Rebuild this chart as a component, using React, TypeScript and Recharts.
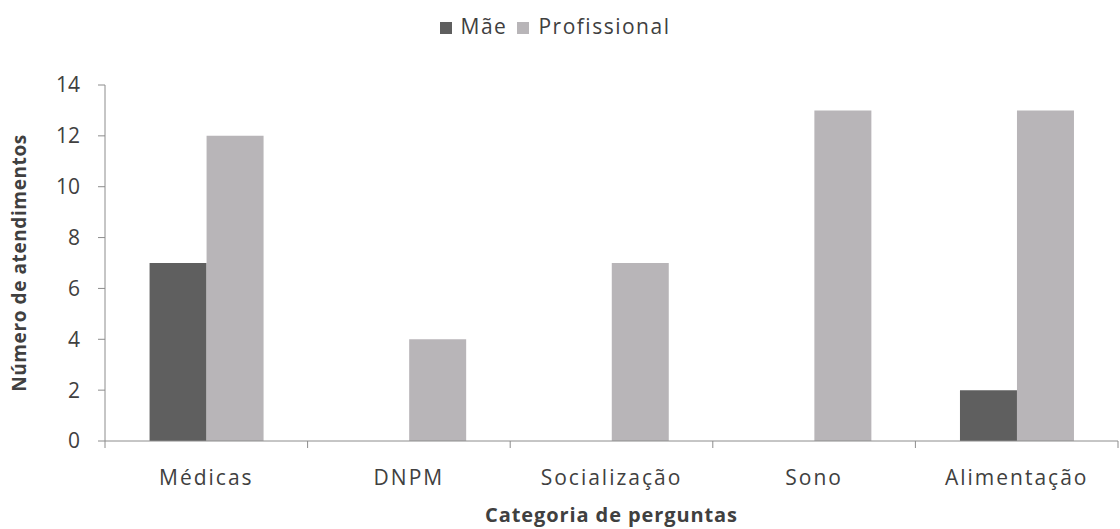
import { BarChart, Bar, XAxis, YAxis, Legend } from "recharts";

// categorias e valores
const CATEGORIES = ["Médicas", "DNPM", "Socialização", "Sono", "Alimentação"];
const MAE = [7, 0, 0, 0, 2];
const PROFISSIONAL = [12, 4, 7, 13, 13];
const Y_TICKS = [0, 2, 4, 6, 8, 10, 12, 14];

const FONT = "'Open Sans', sans-serif";
const TEXT = "#404040";
const AXIS = "#8c8c8c";

const data = CATEGORIES.map((c, i) => ({ cat: c, mae: MAE[i], prof: PROFISSIONAL[i] }));

// tick text centered, tick marks on the band boundaries (like Excel)
function CatTick(props: any) {
  const { x, y, payload, index, visibleTicksCount } = props;
  const half = payload.offset ?? 0;
  return (
    <g>
      <line x1={x - half} x2={x - half} y1={y - 8} y2={y - 1} stroke={AXIS} />
      {index === visibleTicksCount - 1 && (
        <line x1={x + half} x2={x + half} y1={y - 8} y2={y - 1} stroke={AXIS} />
      )}
      <text x={x} y={y + 36} textAnchor="middle" fill={TEXT} fontSize={21} fontFamily={FONT} letterSpacing={2}>
        {payload.value}
      </text>
    </g>
  );
}

export default function App() {
  return (
    <div style={{ position: "absolute", left: 0, top: 0, background: "#fff" }}>
      <BarChart
        width={1120}
        height={529}
        data={data}
        margin={{ top: 57, right: 2, left: 0, bottom: 0 }}
        barGap={0}
        barCategoryGap="22%"
      >
        <Legend
          verticalAlign="top"
          align="center"
          iconType="square"
          iconSize={12}
          wrapperStyle={{ position: "absolute", top: 12, left: 0, width: 1120, fontFamily: FONT, fontSize: 21, letterSpacing: 1.5 }}
          formatter={(v) => <span style={{ color: TEXT, marginLeft: 5 }}>{v}</span>}
        />
        <XAxis
          dataKey="cat"
          height={88}
          axisLine={{ stroke: AXIS }}
          tickLine={false}
          tick={<CatTick />}
          interval={0}
          label={{
            value: "Categoria de perguntas",
            position: "insideBottom",
            offset: 7,
            fill: TEXT,
            fontSize: 20,
            fontWeight: 700,
            fontFamily: FONT,
            letterSpacing: 0.9,
          }}
        />
        <YAxis
          width={105}
          domain={[0, 14]}
          ticks={Y_TICKS}
          axisLine={{ stroke: AXIS }}
          tickLine={{ stroke: AXIS }}
          tickSize={7}
          tickMargin={18}
          tick={{ fill: TEXT, fontSize: 21, fontFamily: FONT }}
          label={{
            value: "Número de atendimentos",
            angle: -90,
            position: "center",
            dx: -33,
            fill: TEXT,
            fontSize: 19,
            fontWeight: 700,
            fontFamily: FONT,
            letterSpacing: 0.6,
          }}
        />
        <Bar dataKey="mae" name="Mãe" fill="#5f5f5f" isAnimationActive={false} />
        <Bar dataKey="prof" name="Profissional" fill="#b8b5b8" isAnimationActive={false} />
      </BarChart>
    </div>
  );
}
